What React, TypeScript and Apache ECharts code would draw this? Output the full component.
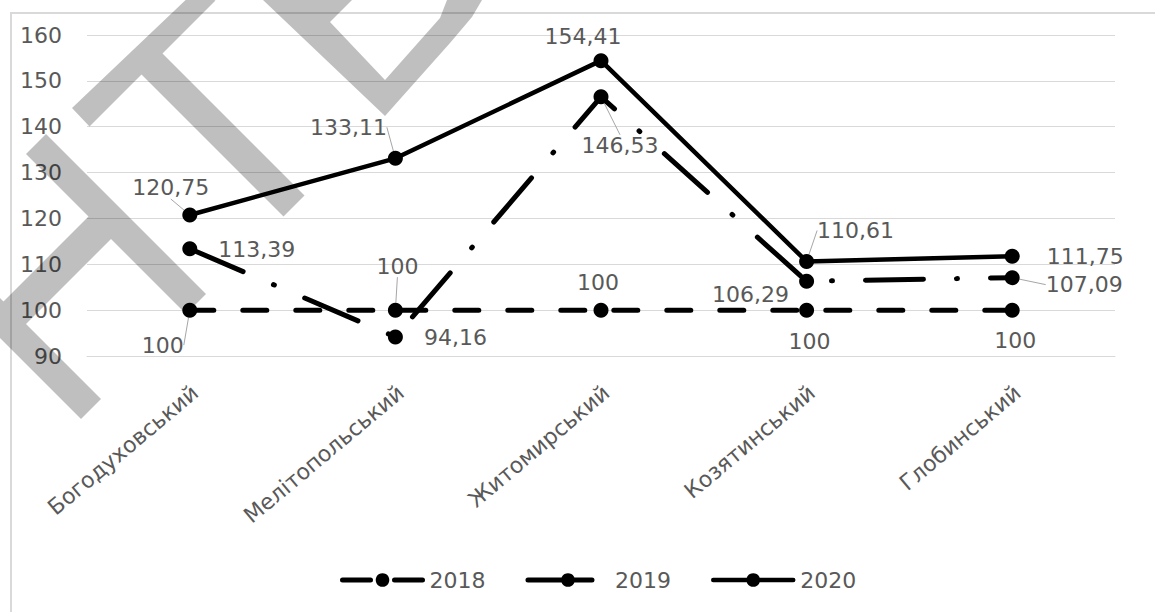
import React, { useEffect, useRef } from "react";
import * as echarts from "echarts";

const categories = ["Богодуховський", "Мелітопольський", "Житомирський", "Козятинський", "Глобинський"];
const seriesNames = ["2018", "2019", "2020"];
const values2018 = [100, 100, 100, 100, 100];
const values2019 = [113.39, 94.16, 146.53, 106.29, 107.09];
const values2020 = [120.75, 133.11, 154.41, 110.61, 111.75];
const yMin = 90;
const yMax = 160;
const yStep = 10;

// label placement (pixel offsets from the point) and leader-line flags
const labelOffsets = [
  [[-27, 35], [2, -44], [-3, -28], [3, 31], [3, 30]],
  [[67, 1], [60, 1], [19, 49], [-56, 13], [72, 7]],
  [[-19, -27], [-47, -31], [-18, -24], [49, -31], [73, 0]],
];
const leaders = [
  [true, true, false, false, false],
  [false, false, true, false, true],
  [true, true, false, true, false],
];

const FONT = "DejaVu Sans";
const TEXT = "#595959";

const fmt = (v: number) => (Number.isInteger(v) ? String(v) : v.toFixed(2).replace(".", ","));

// watermark shapes
const wmH = [[-79, 259], [-59, 239], [3.5, 301.5], [88.5, 216.5], [26, 154], [46, 134], [206, 294], [186, 314], [111, 239], [26, 324], [101, 399], [81, 419]];
const wmT = [[72, 108], [194, -8], [215.5, 0.5], [162.5, 53.5], [304.5, 195.5], [283.5, 216.5], [141.5, 74.5], [89.5, 126.5]];
const wmB = [[263, 0], [385, 116], [450, 43], [472, 17], [482, 0], [447, 0], [440, 18], [385, 80], [330, 22], [352, 0]];

export default function App() {
  const ref = useRef<HTMLDivElement>(null);
  useEffect(() => {
    if (!ref.current) return;
    const chart = echarts.init(ref.current, undefined, { renderer: "svg" });
    const allValues = [values2018, values2019, values2020];
    const dashes: any[] = [
      { width: 5, type: [24, 29], cap: "round" },
      { width: 5, type: [58, 33, 1, 33], cap: "round" },
      { width: 4.5, type: "solid", cap: "round" },
    ];
    const legendLines: any[] = [
      { width: 5, type: [28, 24], cap: "round", color: "#000" },
      { width: 5, type: [64, 40], cap: "round", color: "#000" },
      { width: 4.5, type: "solid", cap: "round", color: "#000" },
    ];
    const series = allValues.map((vals, si) => ({
      name: seriesNames[si],
      type: "line",
      data: vals.map((v, i) => ({ value: v, labelLine: { show: leaders[si][i] } })),
      symbol: "circle",
      symbolSize: 15,
      itemStyle: { color: "#000" },
      lineStyle: { color: "#000", ...dashes[si] },
      z: 2 + si,
      label: {
        show: true,
        position: "inside",
        formatter: (p: any) => fmt(p.value),
        fontFamily: FONT,
        fontSize: 22,
        color: TEXT,
      },
      labelLine: { show: false, lineStyle: { color: "#a6a6a6", width: 1 } },
      labelLayout: (p: any) => {
        const off = labelOffsets[p.seriesIndex][p.dataIndex];
        const cx = p.rect.x + p.rect.width / 2;
        const cy = p.rect.y + p.rect.height / 2;
        return { x: cx + off[0], y: cy + off[1], align: "center", verticalAlign: "middle" };
      },
    }));
    const wm = { fill: "rgba(0,0,0,0.25)" };
    chart.setOption({
      animation: false,
      backgroundColor: "#fff",
      textStyle: { fontFamily: FONT },
      grid: { left: 87, right: 40, top: 35, bottom: 256, containLabel: false },
      legend: {
        data: seriesNames.map((n, i) => ({ name: n, lineStyle: legendLines[i] })),
        left: 335,
        top: 564,
        itemWidth: 80,
        itemHeight: 17,
        itemGap: 40,
        textStyle: { fontFamily: FONT, fontSize: 22, color: TEXT, padding: [0, 0, 0, 2] },
      },
      xAxis: {
        type: "category",
        data: categories,
        boundaryGap: true,
        axisLine: { show: true, lineStyle: { color: "#d9d9d9", width: 1 } },
        axisTick: { show: false },
        axisLabel: {
          interval: 0,
          rotate: 40,
          margin: 38,
          padding: [0, -7, 0, 0],
          fontFamily: FONT,
          fontSize: 22,
          color: TEXT,
        },
      },
      yAxis: {
        type: "value",
        min: yMin,
        max: yMax,
        interval: yStep,
        axisLine: { show: false },
        axisTick: { show: false },
        axisLabel: { margin: 25, fontFamily: FONT, fontSize: 22, color: TEXT },
        splitLine: { lineStyle: { color: "#d9d9d9", width: 1 } },
      },
      series,
      graphic: [
        { type: "rect", silent: true, z: -1, shape: { x: 11, y: 13, width: 1200, height: 700 }, style: { fill: "none", stroke: "#d9d9d9", lineWidth: 2 } },
        { type: "polygon", silent: true, z: 100, shape: { points: wmH }, style: wm },
        { type: "polygon", silent: true, z: 100, shape: { points: wmT }, style: wm },
        { type: "polygon", silent: true, z: 100, shape: { points: wmB }, style: wm },
      ],
    });
    return () => chart.dispose();
  }, []);
  return <div ref={ref} style={{ position: "fixed", left: 0, top: 0, width: 1155, height: 612 }} />;
}
